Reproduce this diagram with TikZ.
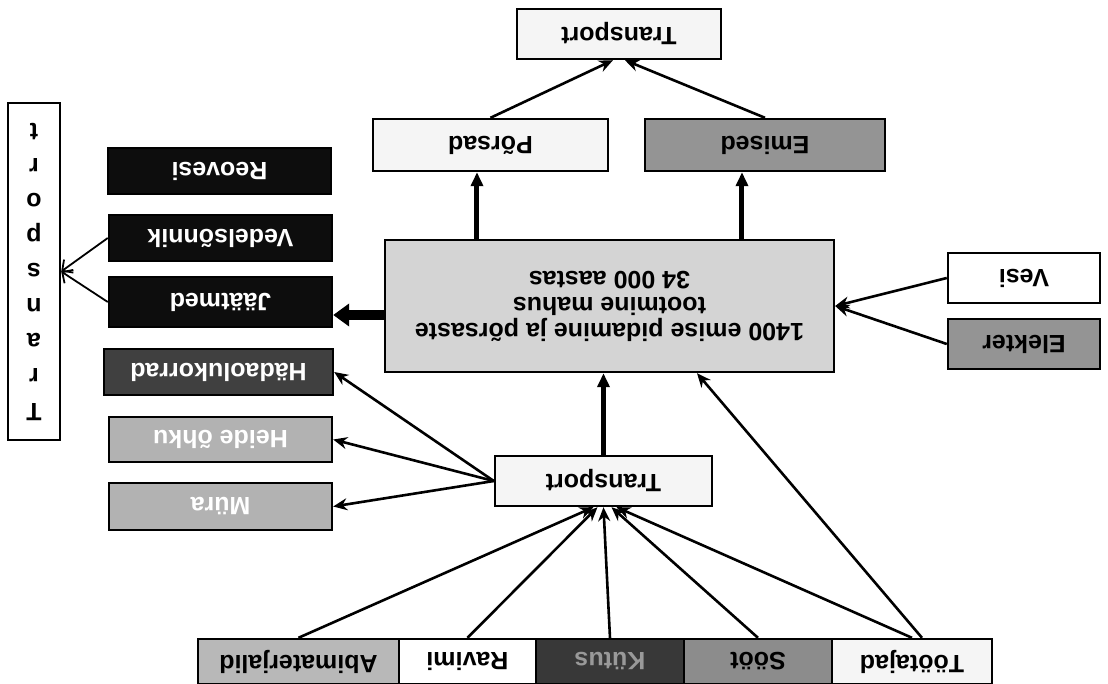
\documentclass[tikz,border=0pt]{standalone}
\usepackage{fontspec}
\setmainfont{Liberation Sans}
\usetikzlibrary{arrows.meta,calc}

\begin{document}
\begin{tikzpicture}[x=0.5pt,y=0.5pt,rotate=180,transform shape,
    box/.style={draw,line width=1.2pt,fill=black!4,inner sep=0pt,align=center,
      font=\fontsize{12.5}{13}\selectfont\bfseries},
    dark/.style={box,fill=black!95,text=white,minimum width=111.5pt},
    row/.style={box,minimum height=22.5pt},
    arr/.style={line width=1.3pt,-{Stealth[length=7pt,width=6pt]}},
    fat/.style={line width=2.5pt,-{Triangle[length=7pt,width=6pt]}},
    fatter/.style={line width=5pt,-{Triangle[length=8pt,width=11pt]}},
    barb/.style={line width=0.9pt,-{Straight Barb[length=4pt,width=8pt]}}]
  \useasboundingbox (0,0) rectangle (1108,684);

  \node[box,minimum width=102pt,minimum height=25pt] (trtop) at (489,34) {Transport};
  \node[box,minimum width=117.5pt,minimum height=26pt] (pors) at (617.5,145) {Põrsad};
  \node[box,fill=black!42,minimum width=120pt,minimum height=26pt] (emis) at (343,145) {Emised};
  \node[box,fill=black!17,minimum width=224.5pt,minimum height=66pt] (main) at (498.5,306)
    {1400 emise pidamine ja põrsaste\\tootmine mahus\\34 000 aastas};
  \node[box,fill=white,minimum width=76pt,minimum height=25pt] (vesi) at (84,278) {Vesi};
  \node[box,fill=black!42,minimum width=76pt,minimum height=25pt] (elek) at (84,344) {Elekter};

  \node[dark,minimum height=23pt] (reov) at (888.5,171) {Reovesi};
  \node[dark,minimum height=23pt] (vede) at (887.5,238) {Vedelsõnnik};
  \node[dark,minimum height=25pt] (jaat) at (887.5,302) {Jäätmed};
  \node[box,fill=black!75,text=white,minimum width=114.5pt,minimum height=23pt] (hada) at (889.5,372) {Hädaolukorrad};
  \node[box,fill=black!30,text=white,minimum width=111.5pt,minimum height=22.5pt] (heid) at (887.5,439.5) {Heide õhku};
  \node[box,fill=black!30,text=white,minimum width=111.5pt,minimum height=23.5pt] (mura) at (887.5,506.5) {Müra};
  \node[box,fill=white,minimum width=26pt,minimum height=168.5pt,
    font=\fontsize{12.5}{17.5}\selectfont\bfseries] (trvert) at (1074,271.5) {T\\r\\a\\n\\s\\p\\o\\r\\t};

  \node[box,minimum width=108.5pt,minimum height=25pt] (trmid) at (504.5,481) {Transport};
  \node[row,fill=black!28,minimum width=100.5pt] (abim) at (809.5,661.5) {Abimaterjalid};
  \node[row,fill=white,minimum width=68.5pt] (ravi) at (640.5,661.5) {Ravimi};
  \node[row,fill=black!78,text=black!40,minimum width=74pt] (kutu) at (498,661.5) {Kütus};
  \node[row,fill=black!45,minimum width=74pt] (soot) at (350,661.5) {Sööt};
  \node[row,fill=black!4,minimum width=80pt] (tool) at (196,661.5) {Töötajad};

  \draw[fat] ($(main.south)+(132.5,0)$) -- ($(pors.north)+(13.5,0)$);
  \draw[fat] ($(main.south)+(-132.5,0)$) -- ($(emis.north)+(23,0)$);
  \draw[arr] (pors.south) -- ($(trtop.north)+(6,0)$);
  \draw[arr] (emis.south) -- ($(trtop.north)+(-6,0)$);
  \draw[arr] (vesi.east) -- (main.west);
  \draw[arr] (elek.east) -- (main.west);
  \draw[fatter] (main.east |- 0,315) -- (jaat.west |- 0,315);
  \draw[barb] (jaat.east) -- (trvert.west);
  \draw[barb] (vede.east) -- (trvert.west);
  \draw[fat] (trmid.south) -- (trmid.south |- main.north);
  \foreach \n in {hada,heid,mura} \draw[arr] (trmid.east) -- (\n.west);
  \draw[arr] ($(tool.south)+(-10,0)$) -- ($(main.north)+(-87.5,0)$);
  \foreach \n/\d in {abim/10,ravi/6,kutu/0,soot/-8,tool/-13}
    \draw[arr] (\n.south) -- ($(trmid.north)+(\d,0)$);
\end{tikzpicture}
\end{document}
